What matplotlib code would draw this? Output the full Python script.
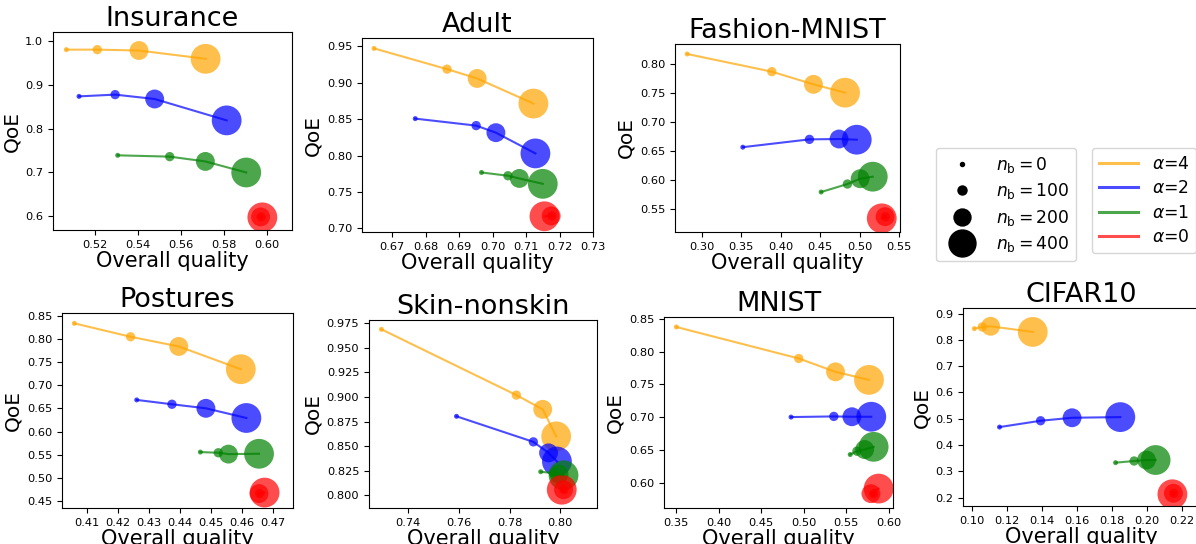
import numpy as np
import matplotlib
matplotlib.use("Agg")
import matplotlib.pyplot as plt
from matplotlib.lines import Line2D
from matplotlib.ticker import MultipleLocator

# Series order in every dataset: alpha = 4, 2, 1, 0; points: n_b = 0, 100, 200, 400
alphas = [4, 2, 1, 0]
colors = ['orange', 'blue', 'green', 'red']
budgets = [0, 100, 200, 400]
marker_sizes = [13, 45, 185, 460]

dataset_names = ['Insurance', 'Adult', 'Fashion-MNIST',
                 'Postures', 'Skin-nonskin', 'MNIST', 'CIFAR10']

insurance_quality = [[0.5068, 0.5212, 0.5406, 0.5716],
                     [0.5127, 0.5295, 0.5479, 0.5814],
                     [0.5307, 0.5549, 0.5715, 0.5905],
                     [0.5972, 0.5974, 0.5972, 0.5980]]
insurance_qoe = [[0.981, 0.981, 0.979, 0.960],
                 [0.874, 0.878, 0.868, 0.819],
                 [0.739, 0.736, 0.725, 0.6997],
                 [0.598, 0.598, 0.598, 0.597]]

adult_quality = [[0.6646, 0.6864, 0.6954, 0.7122],
                 [0.6769, 0.6951, 0.7010, 0.7128],
                 [0.6967, 0.7046, 0.7080, 0.7150],
                 [0.7175, 0.7177, 0.7175, 0.7155]]
adult_qoe = [[0.9472, 0.9187, 0.9059, 0.8714],
             [0.8507, 0.8411, 0.8314, 0.8029],
             [0.7767, 0.7722, 0.7685, 0.7611],
             [0.7170, 0.7170, 0.7170, 0.7165]]

fashion_quality = [[0.2814, 0.3886, 0.4414, 0.4814],
                   [0.3519, 0.4363, 0.4738, 0.4962],
                   [0.4511, 0.4844, 0.5005, 0.5165],
                   [0.5321, 0.5325, 0.5321, 0.5279]]
fashion_qoe = [[0.8173, 0.7868, 0.7649, 0.7505],
               [0.6563, 0.6698, 0.6704, 0.6692],
               [0.5788, 0.5926, 0.6018, 0.6053],
               [0.5362, 0.5360, 0.5362, 0.5333]]

postures_quality = [[0.4058, 0.4240, 0.4396, 0.4597],
                    [0.4260, 0.4374, 0.4484, 0.4615],
                    [0.4466, 0.4524, 0.4557, 0.4656],
                    [0.4656, 0.4658, 0.4656, 0.4674]]
postures_qoe = [[0.8348, 0.8057, 0.7847, 0.7353],
                [0.6686, 0.6592, 0.6504, 0.6294],
                [0.5554, 0.5539, 0.5510, 0.5517],
                [0.4653, 0.4655, 0.4653, 0.4675]]

skin_quality = [[0.7295, 0.7827, 0.7931, 0.7984],
                [0.7591, 0.7894, 0.7954, 0.7987],
                [0.7923, 0.7973, 0.7995, 0.8013],
                [0.8013, 0.8015, 0.8013, 0.8006]]
skin_qoe = [[0.9689, 0.9020, 0.8875, 0.8600],
            [0.8804, 0.8544, 0.8432, 0.8344],
            [0.8240, 0.8226, 0.8215, 0.8204],
            [0.8057, 0.8057, 0.8057, 0.8057]]

mnist_quality = [[0.3500, 0.4941, 0.5374, 0.5768],
                 [0.4850, 0.5354, 0.5567, 0.5795],
                 [0.5547, 0.5626, 0.5717, 0.5823],
                 [0.5820, 0.5823, 0.5791, 0.5882]]
mnist_qoe = [[0.8373, 0.7895, 0.7692, 0.7570],
             [0.7005, 0.7015, 0.7010, 0.7010],
             [0.6436, 0.6487, 0.6512, 0.6553],
             [0.5843, 0.5843, 0.5842, 0.5919]]

cifar_quality = [[0.1013, 0.1058, 0.1106, 0.1347],
                 [0.1157, 0.1392, 0.1572, 0.1848],
                 [0.1821, 0.1927, 0.1998, 0.2050],
                 [0.2152, 0.2154, 0.2152, 0.2146]]
cifar_qoe = [[0.8430, 0.8494, 0.8519, 0.8304],
             [0.4684, 0.4924, 0.5038, 0.5063],
             [0.3329, 0.3392, 0.3430, 0.3430],
             [0.2165, 0.2165, 0.2165, 0.2127]]

all_quality = [insurance_quality, adult_quality, fashion_quality,
               postures_quality, skin_quality, mnist_quality, cifar_quality]
all_qoe = [insurance_qoe, adult_qoe, fashion_qoe,
           postures_qoe, skin_qoe, mnist_qoe, cifar_qoe]

# axis limits and tick steps
xlims = [(0.5006, 0.6118), (0.661, 0.730), (0.266, 0.551),
         (0.4018, 0.4766), (0.7246, 0.8145), (0.3354, 0.6051), (0.0948, 0.2304)]
ylims = [(0.568, 1.0214), (0.6949, 0.9615), (0.5097, 0.8346),
         (0.434, 0.8573), (0.7871, 0.9784), (0.5624, 0.8525), (0.168, 0.9215)]
xsteps = [0.02, 0.01, 0.05, 0.01, 0.02, 0.05, 0.02]
ysteps = [0.1, 0.05, 0.05, 0.05, 0.025, 0.05, 0.1]

# axes boxes in pixels: left, right, top, bottom
W, H = 1196, 544
boxes = [(53, 292, 32, 230), (362, 593, 38, 232), (675, 900, 44, 232),
         (62, 293, 313, 508), (369, 597, 320, 508), (664, 893, 317, 508),
         (963, 1200, 308, 506)]

fig = plt.figure(figsize=(W / 100, H / 100), dpi=100)

for k, name in enumerate(dataset_names):
    l, r, t, b = boxes[k]
    ax = fig.add_axes([l / W, 1 - b / H, (r - l) / W, (b - t) / H])
    for i, c in enumerate(colors):
        qx = all_quality[k][i]
        qy = all_qoe[k][i]
        ax.plot(qx, qy, color=c, alpha=0.7, lw=1.5)
        ax.scatter(qx, qy, s=marker_sizes, color=c, alpha=0.7, edgecolors='none')
    ax.set_xlim(*xlims[k])
    ax.set_ylim(*ylims[k])
    ax.xaxis.set_major_locator(MultipleLocator(xsteps[k]))
    ax.yaxis.set_major_locator(MultipleLocator(ysteps[k]))
    ax.tick_params(labelsize=8.2)
    ax.set_title(name, fontsize=19.5, pad=4)
    ax.set_xlabel('Overall quality', fontsize=15, labelpad=1)
    ax.set_ylabel('QoE', fontsize=14.5, labelpad=3)

# legends in the empty top-right slot
size_handles = [Line2D([], [], marker='o', ls='', color='black', markersize=d)
                for d in [2.9, 6.5, 12.2, 19.4]]
size_labels = [r'$n_\mathrm{b} = %d$' % n for n in budgets]
color_handles = [Line2D([], [], color=c, alpha=0.7, lw=2.2) for c in colors]
color_labels = [r'$\alpha$=%d' % a for a in alphas]

fig.legend(size_handles, size_labels, loc='upper left', fontsize=12.3,
           bbox_to_anchor=(936 / W, 1 - 148 / H), borderaxespad=0,
           handlelength=2.3, labelspacing=0.38)
fig.legend(color_handles, color_labels, loc='upper left', fontsize=12.3,
           bbox_to_anchor=(1092 / W, 1 - 148 / H), borderaxespad=0,
           handlelength=2.3, labelspacing=0.38)

fig.savefig('out.png', dpi=100)
